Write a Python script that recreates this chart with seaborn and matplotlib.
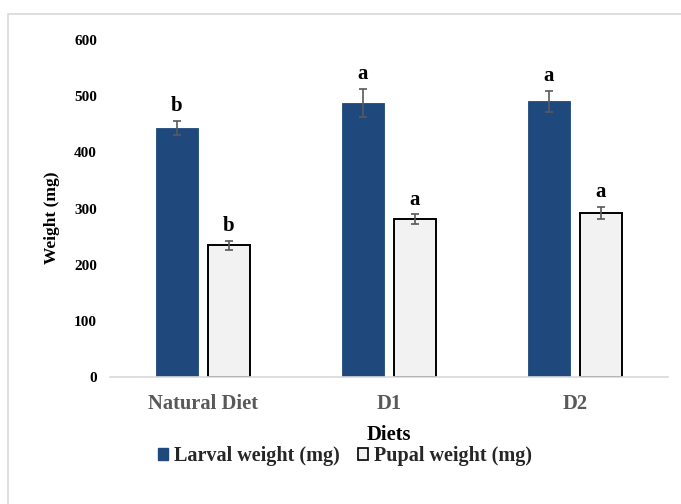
import matplotlib
matplotlib.use("Agg")
import matplotlib.pyplot as plt
from matplotlib.patches import Rectangle, Patch
import seaborn as sns
import pandas as pd

# Mean weights (mg) with standard errors and significance letters
diets = ["Natural Diet", "D1", "D2"]
series = ["Larval weight (mg)", "Pupal weight (mg)"]
larval_mean = [443, 488, 491]
larval_err = [13, 25, 19]
pupal_mean = [235, 281, 292]
pupal_err = [8, 8.5, 11]
larval_letters = ["b", "a", "a"]
pupal_letters = ["b", "a", "a"]
y_ticks = [0, 100, 200, 300, 400, 500, 600]

df = pd.DataFrame({
    "Diet": diets * 2,
    "Series": [series[0]] * 3 + [series[1]] * 3,
    "Weight": larval_mean + pupal_mean,
    "Err": larval_err + pupal_err,
    "Letter": larval_letters + pupal_letters,
})

sns.set_theme(style="white")
plt.rcParams["font.family"] = ["Liberation Serif", "DejaVu Serif"]
plt.rcParams["font.weight"] = "bold"

blue = "#1F497D"
light = "#F2F2F2"

fig = plt.figure(figsize=(6.81, 5.04), dpi=100)
ax = fig.add_axes([110 / 681, 1 - 377 / 504, 558 / 681, 337 / 504])

sns.barplot(data=df, x="Diet", y="Weight", hue="Series", order=diets,
            hue_order=series, palette=[blue, light], saturation=1,
            width=0.56, gap=0.21, errorbar=None, legend=False, ax=ax)

# Style bars and add error bars / letters from the drawn patches
bars = ax.patches
for i, bar in enumerate(bars):
    s = i // 3
    d = i % 3
    row = df[(df.Series == series[s]) & (df.Diet == diets[d])].iloc[0]
    if s == 0:
        bar.set_edgecolor(blue)
        bar.set_linewidth(0.6)
    else:
        bar.set_edgecolor("black")
        bar.set_linewidth(1.4)
    cx = bar.get_x() + bar.get_width() / 2
    ax.errorbar(cx, row.Weight, yerr=row.Err, fmt="none", ecolor="#595959",
                elinewidth=1.2, capsize=3, capthick=1.2, zorder=5)
    ax.annotate(row.Letter, (cx, row.Weight + row.Err), xytext=(0, 7),
                textcoords="offset points", ha="center", va="baseline",
                fontsize=15, fontweight="bold", color="black")

ax.set_ylim(0, 600)
ax.set_xlim(-0.5, 2.5)
ax.set_yticks(y_ticks)
ax.set_yticklabels([str(t) for t in y_ticks], fontsize=11, fontweight="bold",
                   color="black")
ax.set_xticks(range(len(diets)))
ax.set_xticklabels(diets, fontsize=14.8, fontweight="bold", color="#595959")
ax.tick_params(axis="y", length=0, pad=9.4)
ax.tick_params(axis="x", length=0, pad=12)
ax.set_ylabel("Weight (mg)", fontsize=12.5, fontweight="bold", color="black")
ax.yaxis.set_label_coords(-0.0896, 0.473)
ax.set_xlabel("Diets", fontsize=14.8, fontweight="bold", color="black",
              labelpad=8)
ax.grid(False)
for side in ["left", "right", "top"]:
    ax.spines[side].set_visible(False)
ax.spines["bottom"].set_color("#D9D9D9")
ax.spines["bottom"].set_linewidth(1.2)

handles = [Patch(facecolor=blue, edgecolor=blue),
           Patch(facecolor=light, edgecolor="black", linewidth=1.2)]
fig.legend(handles, series, loc="center", bbox_to_anchor=(345 / 681, 1 - 456 / 504),
           ncol=2, frameon=False, handlelength=0.5, handleheight=0.5,
           handletextpad=0.3, columnspacing=0.9,
           prop={"weight": "bold", "size": 14.5})

# Light chart-area border
fig.patches.append(Rectangle((8 / 681, -0.02), 1.05, 1 - 14 / 504 + 0.02,
                             transform=fig.transFigure, fill=False,
                             edgecolor="#D9D9D9", linewidth=1.2))

fig.savefig("out.png", dpi=100)
